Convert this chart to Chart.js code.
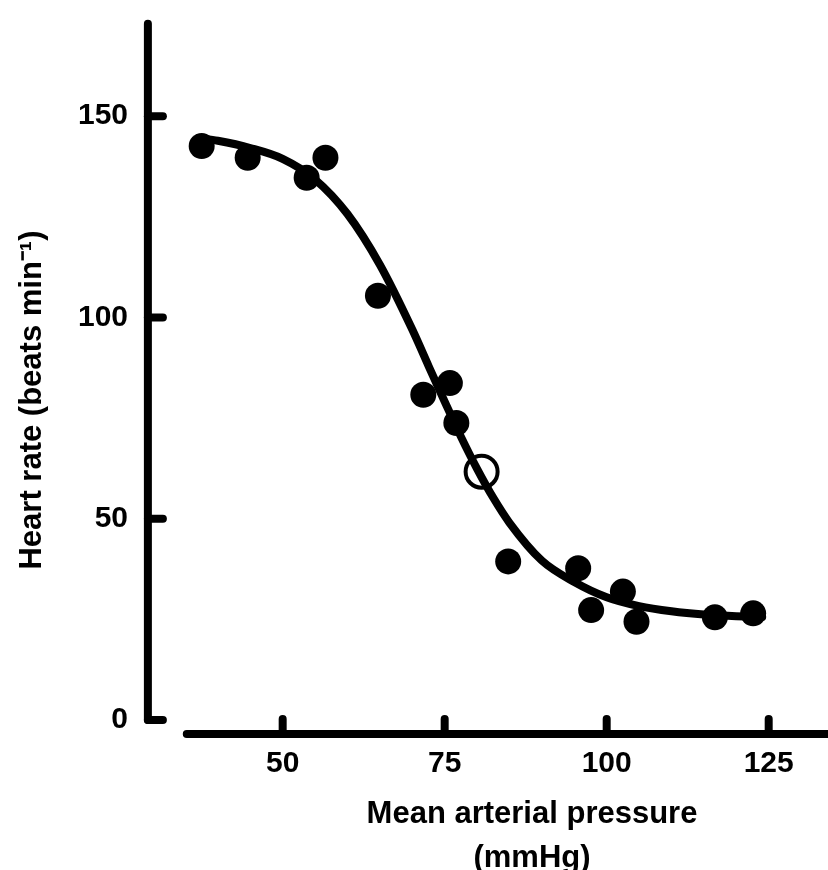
<!DOCTYPE html>
<html>
<head>
<meta charset="utf-8">
<title>Heart rate vs mean arterial pressure</title>
<script src="https://cdn.jsdelivr.net/npm/chart.js@4.4.1/dist/chart.umd.min.js"></script>
<style>
    html, body { margin: 0; padding: 0; background: #fff; overflow: hidden; }
    /* canvas runs past the right edge so the axis title centres where the original does */
    #wrap { width: 876px; height: 870px; position: relative; }
</style>
</head>
<body>
<div id="wrap"><canvas id="baroChart"></canvas></div>
<script>
// Tick labels
const xTickValues = [50, 75, 100, 125];
const yTickValues = [0, 50, 100, 150];

// Measured points (filled)
const pressure = [37.5, 44.6, 53.7, 56.6, 64.7, 71.7, 75.8, 76.8, 84.8, 95.6, 97.6, 102.5, 104.6, 116.7, 122.6];
const heartRate = [142.6, 139.7, 134.7, 139.7, 105.4, 80.8, 83.7, 73.8, 39.4, 37.7, 27.3, 31.9, 24.4, 25.5, 26.5];

// Open circle
const openPressure = [80.7];
const openHeartRate = [61.7];

// Fitted curve
const fitPressure = [37, 40, 45, 50, 55, 60, 65, 70, 72.5, 75, 77.5, 80, 82.5, 85, 90, 95, 100, 105, 110, 115, 120, 124];
const fitHeartRate = [144.6, 143.9, 142.1, 139.4, 134.3, 125.7, 113.1, 97.0, 88.0, 79.1, 70.4, 62.4, 55.2, 49.0, 39.6, 34.3, 30.5, 28.3, 27.0, 26.2, 25.8, 25.6];

const toPoints = (xs, ys) => xs.map((x, i) => ({ x: x, y: ys[i] }));

const FONT = "'Liberation Sans', Arial, Helvetica, sans-serif";

// Axes are detached from each other, so draw them ourselves from the scales
const detachedAxes = {
    id: 'detachedAxes',
    beforeDatasetsDraw(chart) {
        const { ctx, scales: { x, y } } = chart;
        ctx.save();
        ctx.strokeStyle = '#000';
        ctx.lineWidth = 8;
        ctx.lineCap = 'round';
        ctx.lineJoin = 'round';

        // vertical axis with inward ticks
        const yx = x.getPixelForValue(29.2);
        ctx.beginPath();
        ctx.moveTo(yx, y.getPixelForValue(173));
        ctx.lineTo(yx, y.getPixelForValue(0));
        ctx.stroke();
        yTickValues.forEach(v => {
            const py = y.getPixelForValue(v);
            ctx.beginPath();
            ctx.moveTo(yx, py);
            ctx.lineTo(yx + 15, py);
            ctx.stroke();
        });

        // horizontal axis, offset below zero
        const xy = y.getPixelForValue(-3.5);
        ctx.beginPath();
        ctx.moveTo(x.getPixelForValue(35.2), xy);
        ctx.lineTo(chart.width + 10, xy);
        ctx.stroke();
        xTickValues.forEach(v => {
            const px = x.getPixelForValue(v);
            ctx.beginPath();
            ctx.moveTo(px, xy);
            ctx.lineTo(px, xy - 15);
            ctx.stroke();
        });
        ctx.restore();
    }
};

new Chart(document.getElementById('baroChart'), {
    type: 'scatter',
    data: {
        datasets: [
            {
                label: 'Filled',
                data: toPoints(pressure, heartRate),
                pointRadius: 13,
                pointHoverRadius: 13,
                backgroundColor: '#000',
                borderWidth: 0,
                clip: false
            },
            {
                label: 'Open',
                data: toPoints(openPressure, openHeartRate),
                pointRadius: 16,
                pointHoverRadius: 16,
                backgroundColor: 'rgba(0,0,0,0)',
                borderColor: '#000',
                borderWidth: 4,
                clip: false
            },
            {
                type: 'line',
                label: 'Fit',
                data: toPoints(fitPressure, fitHeartRate),
                showLine: true,
                borderColor: '#000',
                borderWidth: 8,
                borderCapStyle: 'round',
                cubicInterpolationMode: 'monotone',
                pointRadius: 0,
                fill: false,
                clip: false
            }
        ]
    },
    options: {
        responsive: true,
        maintainAspectRatio: false,
        animation: false,
        layout: {
            autoPadding: false,
            padding: { top: 80, left: 0, right: 0, bottom: 0 }
        },
        plugins: {
            legend: { display: false },
            tooltip: { enabled: false }
        },
        scales: {
            x: {
                type: 'linear',
                min: 35.39,
                max: 141.56,
                afterBuildTicks: scale => { scale.ticks = xTickValues.map(v => ({ value: v })); },
                afterFit: scale => { scale.height = 150; },
                grid: { display: false, drawTicks: false },
                border: { display: false },
                ticks: {
                    color: '#000',
                    padding: 26,
                    maxRotation: 0,
                    font: { family: FONT, size: 30, weight: 'bold' }
                },
                title: {
                    display: true,
                    text: ['Mean arterial pressure', '(mmHg)'],
                    color: '#000',
                    padding: { top: 0, bottom: -10 },
                    font: { family: FONT, size: 31, weight: 'bold', lineHeight: 1.4 }
                }
            },
            y: {
                type: 'linear',
                min: 0,
                max: 159,
                afterBuildTicks: scale => { scale.ticks = yTickValues.map(v => ({ value: v })); },
                afterFit: scale => { scale.width = 188; },
                grid: { display: false, drawTicks: false },
                border: { display: false },
                ticks: {
                    color: '#000',
                    padding: 60,
                    font: { family: FONT, size: 30, weight: 'bold' }
                },
                title: {
                    display: true,
                    text: 'Heart rate (beats min\u207B\u00B9)',
                    color: '#000',
                    padding: { top: 14, bottom: 0 },
                    font: { family: FONT, size: 31, weight: 'bold' }
                }
            }
        }
    },
    plugins: [detachedAxes]
});
</script>
</body>
</html>
